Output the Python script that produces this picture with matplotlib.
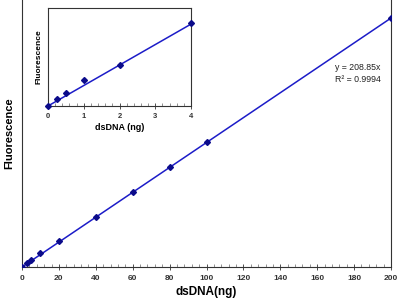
import numpy as np
import matplotlib
matplotlib.use('Agg')
import matplotlib.pyplot as plt
from matplotlib.ticker import MultipleLocator

plt.rcParams['font.family'] = ['Liberation Sans', 'DejaVu Sans']

# main calibration data
dna_ng = [0, 2.5, 5, 10, 20, 40, 60, 80, 100, 200]
fluor = [0, 600, 1150, 2350, 4300, 8450, 12650, 16800, 20900, 41750]

# inset (low range)
dna_low = [0, 0.25, 0.5, 1, 2, 4]
fluor_low = [0, 70, 135, 270, 420, 850]

slope = 208.85
r2 = 0.9994

line_c = '#1c1cc8'
mark_c = '#0b0b8a'

fig = plt.figure(figsize=(4, 3), dpi=100)
ax = fig.add_axes([0.055, 0.11, 0.9225, 0.89])

fit_x = np.array([0, 200])
ax.plot(fit_x, slope * fit_x, color=line_c, lw=1.1, zorder=2)
ax.plot(dna_ng, fluor, 'D', color=mark_c, ms=3, zorder=3)
ax.set_xlim(0, 200)
ax.set_ylim(0, 44800)
ax.set_yticks([])
ax.xaxis.set_major_locator(MultipleLocator(20))
ax.xaxis.set_minor_locator(MultipleLocator(4))
ax.tick_params(axis='x', which='major', direction='inout', length=4, width=0.6,
               labelsize=6, pad=4, colors='#333333')
ax.tick_params(axis='x', which='minor', direction='in', length=2, width=0.5, colors='#666666')
for lbl in ax.get_xticklabels():
    lbl.set_fontweight('bold')
ax.spines['top'].set_visible(False)
for s in ['left', 'right', 'bottom']:
    ax.spines[s].set_linewidth(0.8)
    ax.spines[s].set_color('#333333')
ax.set_xlabel('dsDNA(ng)', fontsize=8.5, fontweight='bold', labelpad=3)
ax.set_ylabel('Fluorescence', fontsize=8, fontweight='bold')
ax.yaxis.set_label_coords(-0.02, 0.5)

ax.text(169.5, 33400, 'y = 208.85x', fontsize=6.3, va='center', ha='left', color='#222222')
ax.text(169.5, 31400, 'R² = ' + f'{r2:.4f}', fontsize=6.3, va='center', ha='left', color='#222222')

# inset
ins = fig.add_axes([0.12, 0.6467, 0.3575, 0.3267])
fit_x2 = np.array([0, 4])
ins.plot(fit_x2, slope * fit_x2, color=line_c, lw=1.1, zorder=2)
ins.plot(dna_low, fluor_low, 'D', color=mark_c, ms=3, zorder=3, clip_on=False)
ins.set_xlim(0, 4)
ins.set_ylim(0, 1000)
ins.set_yticks([])
ins.xaxis.set_major_locator(MultipleLocator(1))
ins.xaxis.set_minor_locator(MultipleLocator(0.2))
ins.tick_params(axis='x', which='major', direction='inout', length=4, width=0.6,
                labelsize=5.5, pad=3, colors='#333333')
ins.tick_params(axis='x', which='minor', direction='in', length=2, width=0.5, colors='#666666')
for lbl in ins.get_xticklabels():
    lbl.set_fontweight('bold')
for s in ins.spines.values():
    s.set_linewidth(0.8)
    s.set_color('#333333')
ins.set_xlabel('dsDNA (ng)', fontsize=6.5, fontweight='bold', labelpad=2)
ins.set_ylabel('Fluorescence', fontsize=6, fontweight='bold', labelpad=4)

fig.savefig('out.png', dpi=100)
